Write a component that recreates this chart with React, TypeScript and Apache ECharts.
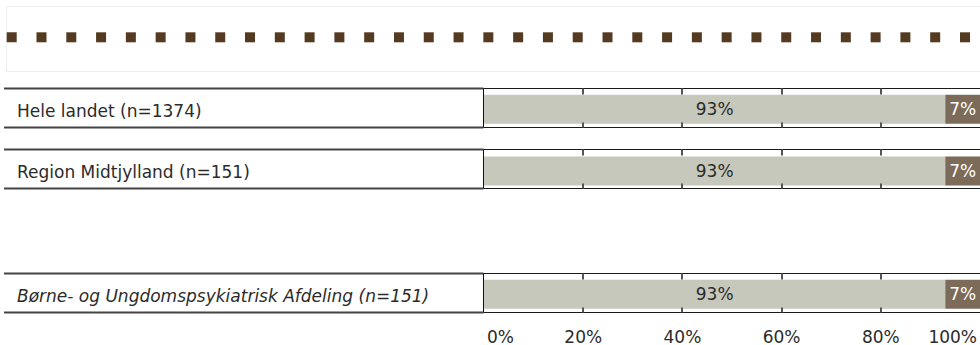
import React, { useEffect, useRef } from "react";
import * as echarts from "echarts";

const categories = [
  "Hele landet (n=1374)",
  "Region Midtjylland (n=151)",
  "",
  "Børne- og Ungdomspsykiatrisk Afdeling (n=151)",
];
const italicRows = [3];
const yesValues: (number | null)[] = [93, 93, null, 93];
const noValues: (number | null)[] = [7, 7, null, 7];
const frameRows = [0, 1, 3];
const innerTicks = [20, 40, 60, 80];
const legendSquareCount = 33;

const FONT = "DejaVu Sans, Verdana, sans-serif";
const TEXT = "#2b2b2b";

export default function App() {
  const ref = useRef<HTMLDivElement>(null);

  useEffect(() => {
    if (!ref.current) return;
    const chart = echarts.init(ref.current, undefined, { renderer: "svg" });

    const squares: any[] = [];
    for (let i = 0; i < legendSquareCount; i++) {
      squares.push({
        type: "rect",
        shape: { x: 6.7 + i * 29.79, y: 32.3, width: 10, height: 10 },
        style: { fill: "#553a22" },
        silent: true,
      });
    }

    const option: any = {
      animation: false,
      backgroundColor: "#ffffff",
      textStyle: { fontFamily: FONT },
      graphic: [
        {
          type: "rect",
          shape: { x: 6.5, y: 6.5, width: 990, height: 65 },
          style: { fill: "none", stroke: "#eeeeee", lineWidth: 1 },
          silent: true,
        },
        ...squares,
      ],
      grid: { left: 484, right: 0, top: 78.4, bottom: 17.6, containLabel: false },
      xAxis: {
        type: "value",
        min: 0,
        max: 100,
        interval: 20,
        axisLine: { show: false },
        axisTick: { show: false },
        splitLine: { show: false },
        axisLabel: {
          formatter: "{value}%",
          fontSize: 17,
          fontFamily: FONT,
          color: TEXT,
          margin: 3,
          alignMinLabel: "left",
          alignMaxLabel: "right",
          padding: [0, 3, 0, 3],
        },
      },
      yAxis: {
        type: "category",
        inverse: true,
        data: categories,
        axisLine: { show: false },
        axisTick: { show: false },
        splitLine: { show: false },
        axisLabel: {
          align: "left",
          margin: 467,
          fontSize: 17,
          fontFamily: FONT,
          color: TEXT,
          padding: [3, 0, 0, 0],
          formatter: (v: string, i: number) =>
            italicRows.includes(i) ? `{it|${v}}` : `{n|${v}}`,
          rich: {
            n: { fontSize: 17, fontFamily: FONT, color: TEXT },
            it: { fontSize: 17, fontFamily: FONT, color: TEXT, fontStyle: "italic" },
          },
        },
      },
      series: [
        {
          name: "Ja",
          type: "bar",
          stack: "total",
          barWidth: 29,
          data: yesValues,
          itemStyle: { color: "#c6c8bc" },
          label: {
            show: true,
            position: "inside",
            formatter: "{c}%",
            fontSize: 17,
            fontFamily: FONT,
            color: TEXT,
          },
          z: 2,
        },
        {
          name: "Nej",
          type: "bar",
          stack: "total",
          barWidth: 29,
          data: noValues,
          itemStyle: { color: "#7b6b58" },
          label: {
            show: true,
            position: "inside",
            formatter: "{c}%",
            fontSize: 17,
            fontFamily: FONT,
            color: "#ffffff",
          },
          z: 2,
        },
        {
          name: "frame",
          type: "custom",
          data: frameRows.map((r) => [0, r]),
          encode: { x: 0, y: 1 },
          z: 5,
          silent: true,
          renderItem: (params: any, api: any) => {
            const idx = api.value(1);
            const p0 = api.coord([0, idx]);
            const p1 = api.coord([100, idx]);
            const x0 = Math.round(p0[0]) - 0.5;
            const x1 = p1[0] + 2;
            const yc = p0[1];
            const top = Math.floor(yc - 21) + 0.5;
            const bottom = Math.floor(yc + 18) + 0.5;
            const children: any[] = [
              { type: "line", shape: { x1: 4, y1: top, x2: x0, y2: top }, style: { stroke: "#444", lineWidth: 2 } },
              { type: "line", shape: { x1: 4, y1: bottom, x2: x0, y2: bottom }, style: { stroke: "#444", lineWidth: 2 } },
              { type: "line", shape: { x1: x0, y1: top, x2: x1, y2: top }, style: { stroke: "#1a1a1a", lineWidth: 1 } },
              { type: "line", shape: { x1: x0, y1: bottom, x2: x1, y2: bottom }, style: { stroke: "#1a1a1a", lineWidth: 1 } },
              { type: "line", shape: { x1: x0, y1: top, x2: x0, y2: bottom }, style: { stroke: "#111", lineWidth: 1 } },
            ];
            innerTicks.forEach((t) => {
              const tx = Math.round(api.coord([t, idx])[0]);
              children.push({
                type: "line",
                shape: { x1: tx, y1: top, x2: tx, y2: top + 6 },
                style: { stroke: "#555", lineWidth: 2 },
              });
              children.push({
                type: "line",
                shape: { x1: tx, y1: bottom - 5, x2: tx, y2: bottom },
                style: { stroke: "#555", lineWidth: 2 },
              });
            });
            return { type: "group", children };
          },
        },
      ],
    };

    chart.setOption(option);
    return () => chart.dispose();
  }, []);

  return (
    <div
      ref={ref}
      style={{ position: "fixed", left: 0, top: 0, width: 980, height: 345, background: "#fff" }}
    />
  );
}
